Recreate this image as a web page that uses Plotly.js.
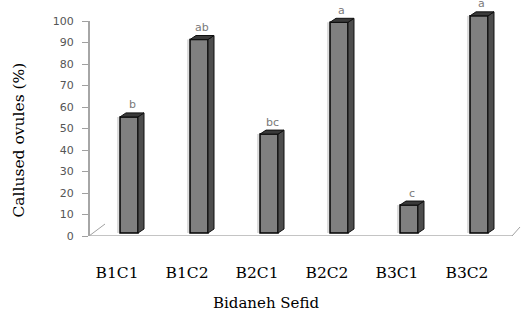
<!DOCTYPE html>
<html>
<head>
<meta charset="utf-8">
<script src="https://cdn.plot.ly/plotly-3.0.1.min.js"></script>
<style>html,body{margin:0;padding:0;background:#fff;}#chart{width:521px;height:312px;}</style>
</head>
<body>
<div id="chart"></div>
<script>
// ---- data ----
const categories = ['B1C1', 'B1C2', 'B2C1', 'B2C2', 'B3C1', 'B3C2'];
const callusedPct = [54, 90, 46, 98, 13, 101];
const groupLetters = ['b', 'ab', 'bc', 'a', 'c', 'a'];
const yTickValues = [0, 10, 20, 30, 40, 50, 60, 70, 80, 90, 100];

// ---- geometry / style ----
const SERIF = 'DejaVu Serif';
const W = 521, H = 312;
const M = {l: 89, r: 9, t: 5, b: 76};
const plotH = H - M.t - M.b;
const pxPerUnit = 2.15;
const yTop = plotH / pxPerUnit;
const floorShiftPx = 3;
const y2Low = -floorShiftPx / pxPerUnit;
const xRange = [-0.4, 5.643];
const plotW = W - M.l - M.r;
const pxPerCat = plotW / (xRange[1] - xRange[0]);
const barShift = 12 / pxPerCat;
const barW = 18 / pxPerCat;
const barWpx = barW * pxPerCat;
const depthX = 6, depthY = 4 / pxPerUnit;

const idx = categories.map((_, i) => i);

const shapes = [];
shapes.push({type: 'line', xref: 'paper', yref: 'y', x0: 0, x1: 0, y0: 0, y1: 100,
  line: {color: '#a6a6a6', width: 2}, layer: 'below'});
shapes.push({type: 'line', xref: 'paper', yref: 'y', x0: 0, x1: 1, y0: 0, y1: 0,
  line: {color: '#c4c4c4', width: 2}, layer: 'below'});
shapes.push({type: 'line', xref: 'paper', yref: 'y', xsizemode: 'pixel', ysizemode: 'pixel',
  xanchor: 0, yanchor: 0, x0: 0, y0: 0, x1: 16, y1: 12, line: {color: '#a0a0a0', width: 1}});
shapes.push({type: 'line', xref: 'paper', yref: 'y', xsizemode: 'pixel', ysizemode: 'pixel',
  xanchor: 1, yanchor: 0, x0: 0, y0: 0, x1: 8, y1: 9, line: {color: '#a0a0a0', width: 1}});

idx.forEach(i => {
  const v = callusedPct[i];
  const xc = i + barShift;
  shapes.push({type: 'line', xref: 'x', yref: 'y2', xsizemode: 'pixel', xanchor: xc - barW / 2,
    x0: -2, x1: -2, y0: 0, y1: v, line: {color: '#dcdcdc', width: 2}, layer: 'below'});
  shapes.push({type: 'path', xref: 'x', yref: 'y2', xsizemode: 'pixel', xanchor: xc + barW / 2,
    path: `M 0,0 L ${depthX},${depthY} L ${depthX},${v + depthY} L 0,${v} Z`,
    fillcolor: '#4d4d4d', line: {color: '#111', width: 1}, layer: 'above'});
  shapes.push({type: 'path', xref: 'x', yref: 'y2', xsizemode: 'pixel', xanchor: xc - barW / 2,
    path: `M 0,${v} L ${depthX},${v + depthY} L ${barWpx + depthX},${v + depthY} L ${barWpx},${v} Z`,
    fillcolor: '#3a3a3a', line: {color: '#111', width: 1}, layer: 'above'});
});

const annotations = idx.map(i => ({
  xref: 'x', yref: 'y2', x: i + barShift, y: callusedPct[i], xshift: 3, yshift: 12,
  text: groupLetters[i], showarrow: false, xanchor: 'center', yanchor: 'middle',
  font: {family: 'DejaVu Sans', size: 11, color: '#7a7a7a'}
}));
annotations.push({
  xref: 'paper', yref: 'paper', x: (18 - M.l) / plotW, y: (H - M.b - 140.5) / plotH,
  text: 'Callused ovules (%)', textangle: -90, showarrow: false,
  xanchor: 'center', yanchor: 'middle',
  font: {family: SERIF, size: 15.5, color: '#000'}
});
annotations.push({
  xref: 'paper', yref: 'paper', x: (265.5 - M.l) / plotW, y: (H - M.b - 303) / plotH,
  text: 'Bidaneh Sefid', showarrow: false, xanchor: 'center', yanchor: 'middle',
  font: {family: SERIF, size: 15, color: '#000'}
});

const trace = {
  type: 'bar', x: idx, y: callusedPct, yaxis: 'y2',
  width: barW, offset: barShift - barW / 2,
  marker: {color: '#808080', line: {color: '#000', width: 1.5}},
  hoverinfo: 'none', showlegend: false
};

const layout = {
  width: W, height: H, margin: M,
  paper_bgcolor: '#fff', plot_bgcolor: 'rgba(0,0,0,0)',
  showlegend: false,
  xaxis: {type: 'linear', range: xRange, tickvals: idx, ticktext: categories,
    ticks: '', showgrid: false, zeroline: false, showline: false,
    ticklabelstandoff: 25,
    tickfont: {family: SERIF, size: 15.5, color: '#000'}},
  yaxis: {range: [0, yTop], tickvals: yTickValues, ticks: 'outside', ticklen: 6,
    tickcolor: '#a0a0a0', tickwidth: 1, showgrid: false, zeroline: false, showline: false,
    ticklabelstandoff: 6,
    tickfont: {family: 'DejaVu Sans', size: 11, color: '#555'}},
  yaxis2: {overlaying: 'y', range: [y2Low, yTop + y2Low], showticklabels: false,
    showgrid: false, zeroline: false, showline: false, ticks: ''},
  shapes: shapes, annotations: annotations
};

Plotly.newPlot('chart', [trace], layout, {staticPlot: true, displayModeBar: false});
</script>
</body>
</html>
